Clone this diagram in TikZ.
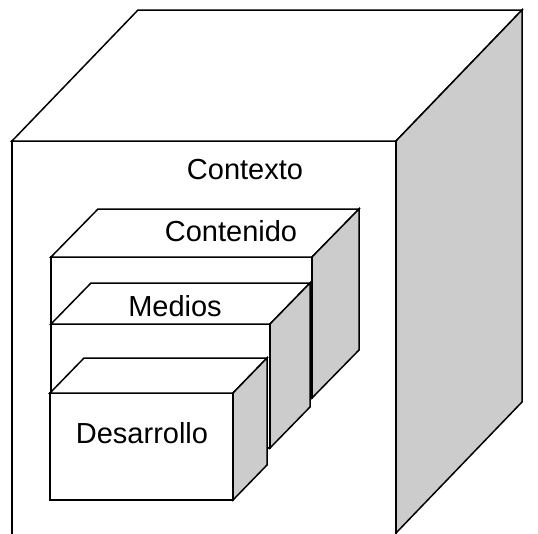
\documentclass[tikz,border=0pt]{standalone}
\usepackage{fontspec}
\setmainfont{Liberation Sans}
\tikzset{
  face/.style={draw=black, line width=1.5pt, line join=miter, fill=white},
  side/.style={draw=black, line width=1.5pt, line join=miter, fill=black!20},
  lbl/.style={font=\fontsize{29}{34}\selectfont, inner sep=0pt}
}
% #1 left x, #2 top y, #3 right x, #4 bottom y, #5 dx, #6 dy, #7 bottom y of front face
\newcommand\myboxdraw[7]{%
  \path[face] (#1,#2) rectangle (#3,#7);
  \path[face] (#1,#2) -- ++(#5,-#6) -- (#3+#5,#2-#6) -- (#3,#2) -- cycle;
  \path[side] (#3,#2) -- (#3+#5,#2-#6) -- (#3+#5,#4-#6) -- (#3,#4) -- cycle;
}
\begin{document}
\begin{tikzpicture}[x=1pt,y=-1pt]
\useasboundingbox (0,0) rectangle (538,533);
\clip (0,0) rectangle (538,533);
\myboxdraw{12}{141}{396}{533}{126}{131}{545}
\myboxdraw{51}{257}{312}{398}{47}{48}{398}
\myboxdraw{51}{324}{270}{448}{40}{41}{448}
\myboxdraw{50}{393}{233}{500}{34}{35}{500}
\node[lbl] (contexto) at (245,170) {Contexto};
\node[lbl] (contenido) at (231,231) {Contenido};
\node[lbl] (medios) at (175,306) {Medios};
\node[lbl] (desarrollo) at (142,433) {Desarrollo};
\end{tikzpicture}
\end{document}
